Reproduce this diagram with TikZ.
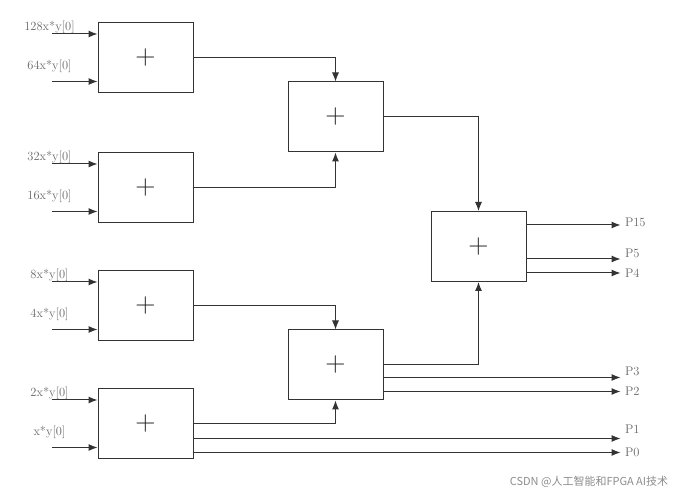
\documentclass[tikz,border=0pt]{standalone}
\usepackage{fontspec}
\newfontfamily\cjk{Noto Sans CJK SC}
\usetikzlibrary{positioning, calc, arrows.meta}

\begin{document}
\begin{tikzpicture}[->,>={Latex[length=9pt,width=7pt]},x=1pt,y=1pt,line width=1pt,color=black!80,
	adder/.style={draw,minimum width=95pt,minimum height=70pt,inner sep=0pt,text=black!85,font=\fontsize{28}{28}\selectfont},
	lbl/.style={text=black!60,font=\fontsize{12.5}{14}\selectfont,inner sep=1pt},
	outlbl/.style={lbl,anchor=west},
	hv/.style={to path={-| (\tikztotarget)}}]
			\useasboundingbox (0,0) rectangle (689,498);
			\node[adder] (a1) at (145.5,440) {+};
			\node[adder] (a2) [below=59pt of a1] {+};
			\node[adder] (a3) [below=47pt of a2] {+};
			\node[adder] (a4) [below=47pt of a3] {+};
			\node[adder] (b1) [right=94pt of a1, yshift=-59pt] {+};
			\node[adder] (b2) [right=94pt of a3, yshift=-59pt] {+};
			\node[adder] (c) [right=47pt of b1, yshift=-129.5pt] {+};
			
			% partial products in
			\foreach \b/\u/\l in {a1/128x/64x, a2/32x/16x, a3/8x/4x, a4/2x/x} {
				\coordinate (\b-u) at ($(\b.west)+(-46,24)$);
				\coordinate (\b-l) at ($(\b.west)+(-46,-23.5)$);
				\draw (\b-u) -- (\b-u -| \b.west);
				\draw (\b-l) -- (\b-l -| \b.west);
				\node[lbl] (\b-ut) at ($(\b-u)+(-2,6.5)$) {\u*y[0]};
				\node[lbl] (\b-lt) at ($(\b-l)+(-2,15.5)$) {\l*y[0]};
			}
			
			\path
			(a1.east) edge[hv] (b1.north)
			(a2.east) edge[hv] (b1.south)
			(a3.east) edge[hv] (b2.north)
			(a4.east) edge[hv] (b2.south)
			(b1.east) edge[hv] (c.north)
			(b2.east) edge[hv] (c.south);
			
			% product bits out
			\coordinate (xo) at ($(c.east)+(94,0)$);
			\foreach \n/\s/\dy/\ly in {c/15/21.5/3, c/5/-12.5/6, c/4/-26.5/0, b2/3/-12.5/6, b2/2/-26.5/0, a4/1/-14.5/9, a4/0/-28.5/0} {
				\coordinate (o\s) at ($(\n.east)+(0,\dy)$);
				\draw (o\s) -- (o\s -| xo);
				\node[outlbl] (p\s) at ($(o\s -| xo)+(3,\ly)$) {P\s};
			}
			
			\node[text=black!45,font=\cjk\fontsize{11}{13}\selectfont] (wm) at (589,16) {CSDN @人工智能和FPGA AI技术};
		\end{tikzpicture}
\end{document}
